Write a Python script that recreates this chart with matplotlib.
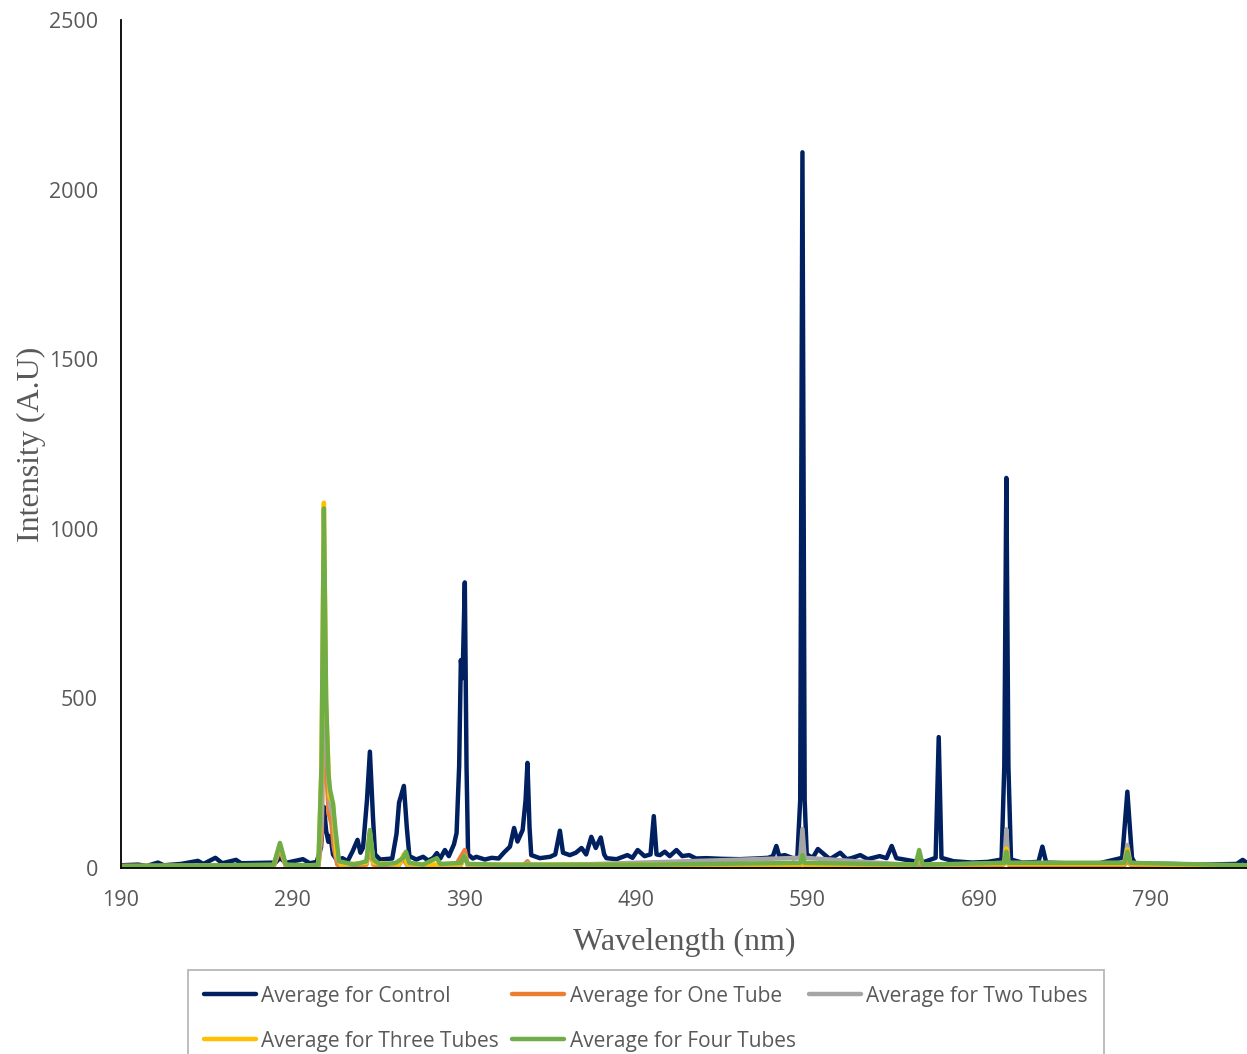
import matplotlib.pyplot as plt

# Wavelength (nm) / intensity (A.U) points
control_wl = [190, 200, 205, 211.5, 215, 225, 234.8, 238, 245, 249, 257, 260, 270, 280,
              282.6, 286, 296, 300, 304, 306.5, 308.2, 309.5, 310.8, 312, 313.5, 316, 319,
              322, 325, 327.8, 329.5, 331, 333.3, 335, 336.8, 338, 341, 348, 350.5, 352,
              354.8, 356.5, 358, 362, 366, 369, 372, 374, 376, 378.7, 381, 384, 385.5, 387,
              388, 389, 390.3, 391.3, 392.2, 395, 397, 402, 406, 410, 413, 416.6, 419, 421,
              424, 425.7, 426.8, 428, 429, 434, 440, 443, 445.7, 447.5, 451.5, 455, 458.3,
              461, 464, 466.6, 469.5, 471.5, 472.8, 478.7, 485, 488, 491, 495, 498.5, 500.4,
              502, 504, 506.8, 509.7, 513.6, 517, 521, 525, 531, 540, 550.5, 560, 567,
              569.8, 571.8, 573.5, 576.7, 581.4, 584, 585.7, 587, 588.3, 589.5, 593, 596,
              598.8, 603, 609, 612.8, 615.5, 620.7, 625, 632, 636, 639, 641.7, 647.5, 652,
              655, 658, 664.6, 666.4, 668, 675, 686, 695, 703, 704.6, 705.8, 707, 708.5, 715,
              724.5, 726.8, 729, 740, 760, 773.3, 776.3, 779, 781, 800, 820, 840, 843.5, 846]
control_int = [8, 10, 6, 16, 8, 12, 21, 12, 30, 14, 24, 14, 15, 16,
               30, 15, 26, 14, 18, 60, 180, 110, 77, 95, 40, 22, 29,
               20, 50, 83, 45, 60, 200, 343, 150, 40, 25, 28, 100, 193,
               242, 120, 35, 25, 33, 22, 30, 44, 28, 53, 35, 70, 103, 300,
               613, 560, 842, 300, 40, 28, 33, 25, 30, 28, 45, 63, 118, 78,
               112, 200, 310, 120, 38, 29, 33, 40, 110, 45, 38, 45, 59,
               40, 92, 59, 90, 40, 29, 26, 38, 30, 53, 35, 40, 153,
               40, 38, 48, 35, 53, 35, 38, 28, 29, 27, 26, 28, 30,
               35, 65, 35, 38, 29, 30, 200, 2110, 200, 40, 30, 56,
               44, 26, 45, 26, 29, 38, 26, 35, 29, 65, 29, 24, 20,
               22, 18, 30, 386, 30, 20, 16, 18, 25, 300, 1150, 300, 25, 16,
               18, 63, 16, 14, 14, 30, 225, 30, 12, 12, 10, 12, 24, 15]

one_wl = [190, 250, 279, 282.6, 286, 300, 305, 307, 308.2, 309.5, 311, 312.5, 314, 316, 320,
          333, 335, 337, 350, 354.8, 357, 385, 390.3, 392, 424, 426.8, 429, 585, 587, 589,
          703, 705.8, 708, 774, 776.3, 779, 846]
one_int = [3, 3, 5, 55, 5, 4, 5, 100, 630, 300, 160, 133, 60, 10, 4,
           10, 60, 10, 5, 25, 6, 8, 53, 8, 5, 20, 5, 5, 15, 5,
           5, 20, 5, 5, 20, 5, 3]

two_wl = [190, 279, 282.6, 286, 305, 307, 308.2, 309.5, 311.5, 313.5, 315.5, 318, 333, 335,
          337, 352, 354.8, 357, 388, 390.3, 392, 424, 426.8, 429, 585.7, 587, 588.3, 653,
          655, 657, 704.6, 705.8, 707, 774.5, 776.3, 778, 846]
two_int = [5, 6, 65, 6, 6, 150, 640, 400, 190, 150, 30, 8, 15, 100,
           15, 8, 40, 8, 8, 38, 8, 6, 15, 6, 30, 115, 30, 8,
           20, 8, 15, 114, 15, 15, 68, 15, 5]

three_wl = [190, 279, 282.6, 286, 305, 306.8, 308.2, 309.5, 311.5, 313.5, 315.5, 318, 333,
            335, 337, 352, 354.8, 357, 388, 390.3, 392, 585.7, 587, 588.3, 653, 655, 657,
            704.6, 705.8, 707, 774.5, 776.3, 778, 846]
three_int = [6, 8, 70, 8, 8, 300, 1077, 480, 210, 190, 40, 10, 15,
             105, 15, 10, 40, 10, 10, 35, 10, 10, 30, 10, 10, 45, 10,
             12, 58, 12, 12, 55, 12, 6]

four_wl = [190, 250, 279, 282.6, 286, 300, 305, 306.8, 308.2, 309.5, 310.8, 311.8, 313.5, 315,
           317, 326, 333, 335, 337, 341, 350, 354.5, 356, 358, 366, 370, 374, 376, 388, 390,
           392, 410, 500, 585.7, 587, 588.3, 653, 655, 657, 704.6, 705.8, 707, 774.5, 776.3,
           778, 846]
four_int = [6, 8, 10, 74, 10, 8, 10, 300, 1060, 500, 280, 230, 190, 110,
            20, 10, 20, 112, 25, 10, 15, 30, 48, 15, 10, 20, 29, 12, 15, 35,
            12, 10, 10, 15, 38, 15, 10, 53, 10, 15, 48, 15, 15, 48,
            15, 8]

series = [
    ("Average for Control", control_wl, control_int, "#002060"),
    ("Average for One Tube", one_wl, one_int, "#ED7D31"),
    ("Average for Two Tubes", two_wl, two_int, "#A5A5A5"),
    ("Average for Three Tubes", three_wl, three_int, "#FFC000"),
    ("Average for Four Tubes", four_wl, four_int, "#70AD47"),
]

fig = plt.figure(figsize=(12.47, 10.54), dpi=100)
ax = fig.add_axes([121 / 1247, 1 - 868 / 1054, 1 - 121 / 1247, (868 - 20) / 1054])

lines = []
for label, wl, inten, color in series:
    ln, = ax.plot(wl, inten, color=color, lw=3.2, label=label,
                  solid_joinstyle="round", solid_capstyle="round")
    lines.append(ln)

ax.set_xlim(190, 846)
ax.set_ylim(0, 2500)
ax.set_xticks([190, 290, 390, 490, 590, 690, 790])
ax.set_yticks([0, 500, 1000, 1500, 2000, 2500])
ax.tick_params(length=0, labelsize=15.5, labelcolor="#595959")
for lab in ax.get_xticklabels() + ax.get_yticklabels():
    lab.set_fontfamily("Open Sans")
ax.tick_params(axis="y", pad=16.5)
ax.tick_params(axis="x", pad=16)

for s in ["top", "right"]:
    ax.spines[s].set_visible(False)
for s in ["left", "bottom"]:
    ax.spines[s].set_color("black")
    ax.spines[s].set_linewidth(1.3)

ax.set_xlabel("Wavelength (nm)", family="Liberation Serif", fontsize=23, color="#595959",
              labelpad=12)
ax.set_ylabel("Intensity (A.U)", family="Liberation Serif", fontsize=23, color="#595959",
              labelpad=2)

# legend filled row by row like the original (matplotlib fills by column)
order = [0, 3, 1, 4, 2]
leg = fig.legend([lines[i] for i in order], [series[i][0] for i in order],
                 loc="upper left", bbox_to_anchor=(188 / 1247, 1 - 970 / 1054), ncol=3,
                 prop={"family": "Open Sans", "size": 15}, labelcolor="#595959",
                 frameon=True, fancybox=False, edgecolor="#A6A6A6", handlelength=2.5,
                 handletextpad=0.25, columnspacing=0.65, borderpad=0.75, labelspacing=1.15,
                 borderaxespad=0)
leg.get_frame().set_linewidth(1.3)

plt.savefig("out.png", dpi=100)
